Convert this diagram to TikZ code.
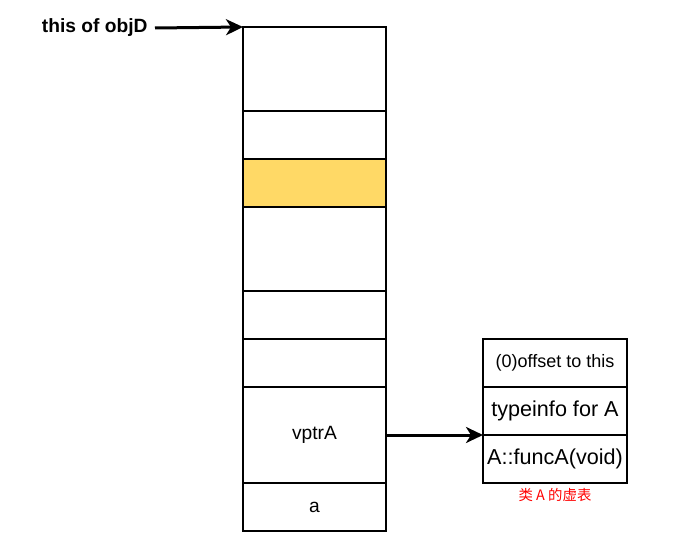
\documentclass[tikz,border=0pt]{standalone}
\usepackage{fontspec}
\setmainfont{Liberation Sans}
\newfontfamily\cjkfont{Noto Sans CJK SC}
\usepackage{xcolor}
\usetikzlibrary{
    arrows.meta,
    positioning
}
\definecolor{objyellow}{HTML}{FFD966}
\definecolor{tblred}{HTML}{FF0000}
\tikzset{
    % Memory cell of the object
    memcell/.style={
        rectangle,
        draw=black,
        fill=white,
        line width=2.2pt,
        outer sep=0pt,
        inner sep=0pt,
        minimum width=143pt,
        minimum height=#1,
        align=center,
        font=\fontsize{19.2}{22}\selectfont
    },
    memcell/.default=48pt,
    % Entry of the virtual table
    vtcell/.style={
        rectangle,
        draw=black,
        fill=white,
        line width=2.2pt,
        outer sep=0pt,
        inner sep=0pt,
        minimum width=144pt,
        minimum height=48pt,
        align=center,
        font=\fontsize{21.6}{24}\selectfont
    },
    % Pointer arrow
    ptrarrow/.style={
        draw=black,
        line width=3pt,
        -{Stealth[length=17pt,width=16pt,inset=5pt]}
    }
}
\begin{document}
\begin{tikzpicture}[x=1pt,y=-1pt]
    \useasboundingbox (0,0) rectangle (694,551);
    % object layout
    \node[memcell=84pt, anchor=north west] (c1) at (243,27) {};
    \node[memcell, below=0pt of c1] (c2) {};
    \node[memcell, fill=objyellow, below=0pt of c2] (c3) {};
    \node[memcell=84pt, below=0pt of c3] (c4) {};
    \node[memcell, below=0pt of c4] (c5) {};
    \node[memcell, below=0pt of c5] (c6) {};
    \node[memcell=96pt, below=0pt of c6] (vptrA) {vptrA};
    \node[memcell, below=0pt of vptrA] (a) {a};

    % virtual table of A
    \node[vtcell, anchor=north west] (vt-off) at (483,339) {\fontsize{18}{20}\selectfont(0)offset to this};
    \node[vtcell, below=0pt of vt-off] (vt-type) {typeinfo for A};
    \node[vtcell, below=0pt of vt-type] (vt-func) {A::funcA(void)};
    \node[font=\fontsize{14.4}{16}\selectfont, text=tblred, below=2pt of vt-func] (vt-name) {\cjkfont 类 A 的虚表};

    % this pointer
    \node[font=\fontsize{19.2}{22}\selectfont\bfseries, anchor=east] (this) at (151,28) {this of objD};
    \coordinate (this-start) at ([xshift=4pt]this.east);
    \draw[ptrarrow] (this-start) -- (c1.north west);
    \draw[ptrarrow] (vptrA.east) -- (vt-func.west |- vptrA.east);
\end{tikzpicture}
\end{document}
